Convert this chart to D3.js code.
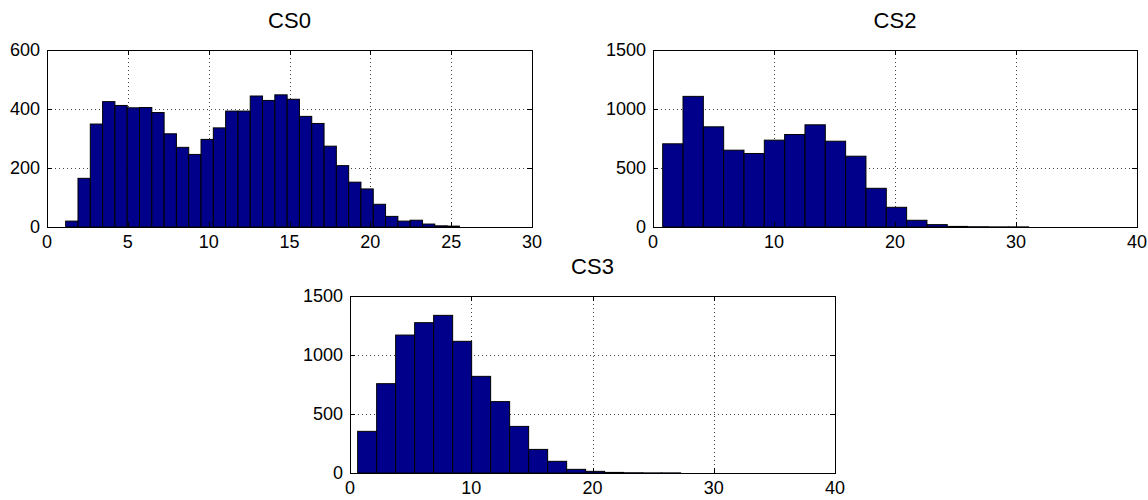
<!DOCTYPE html>
<html>
<head>
<meta charset="utf-8">
<script src="https://cdn.jsdelivr.net/npm/d3@7"></script>
<style>
  html, body { margin: 0; padding: 0; background: #fff; }
  svg { display: block; }
  text { font-family: "Liberation Sans", Arial, Helvetica, sans-serif; fill: #000; }
</style>
</head>
<body>
<svg id="chart" width="1148" height="500"></svg>
<script>
// Histogram counts per bin for each channel
const cs0Counts = [20, 165, 349, 425, 412, 404, 405, 388, 316, 270, 246, 297, 336, 393, 393, 444,
                   429, 448, 433, 375, 351, 274, 208, 152, 129, 77, 36, 20, 23, 10, 4, 3];
const cs2Counts = [705, 1107, 849, 651, 623, 736, 784, 866, 727, 600, 328, 167, 57, 20, 5, 2, 1, 1, 0, 0, 0, 0, 0];
const cs3Counts = [353, 757, 1169, 1274, 1336, 1116, 819, 605, 395, 200, 99, 31, 14, 5, 2, 1, 1, 0, 0, 0, 0, 0, 0, 0, 0];

// First bin edge and bin width (in x units) for each channel
const cs0Bins = [1.156, 0.761];
const cs2Bins = [0.8, 1.68];
const cs3Bins = [0.63, 1.567];

// Axis limits and tick values
const cs0XTicks = [0, 5, 10, 15, 20, 25, 30];
const cs0YTicks = [0, 200, 400, 600];
const cs2XTicks = [0, 10, 20, 30, 40];
const cs2YTicks = [0, 500, 1000, 1500];
const cs3XTicks = [0, 10, 20, 30, 40];
const cs3YTicks = [0, 500, 1000, 1500];

const titles = ["CS0", "CS2", "CS3"];

const svg = d3.select("#chart");
const barFill = "#00008B";
const tickLen = 5;

function panel(opts) {
  const { title, counts, bins, xTicks, yTicks, box, id } = opts;
  const x = d3.scaleLinear().domain([xTicks[0], xTicks[xTicks.length - 1]]).range([box.x0, box.x1]);
  const y = d3.scaleLinear().domain([yTicks[0], yTicks[yTicks.length - 1]]).range([box.y1, box.y0]);

  const g = svg.append("g");

  g.append("defs").append("clipPath").attr("id", "clip-" + id)
    .append("rect")
    .attr("x", box.x0).attr("y", box.y0 - 1)
    .attr("width", box.x1 - box.x0).attr("height", box.y1 - box.y0 + 1);

  // white plot background
  g.append("rect")
    .attr("x", box.x0).attr("y", box.y0)
    .attr("width", box.x1 - box.x0).attr("height", box.y1 - box.y0)
    .attr("fill", "#fff");

  // dotted grid
  const grid = g.append("g")
    .attr("stroke", "#444").attr("stroke-width", 1)
    .attr("stroke-dasharray", "1,3").attr("shape-rendering", "crispEdges");
  grid.selectAll("line.vx").data(xTicks.slice(1, -1)).join("line")
    .attr("x1", d => Math.round(x(d)) + 0.5).attr("x2", d => Math.round(x(d)) + 0.5)
    .attr("y1", box.y0).attr("y2", box.y1);
  grid.selectAll("line.hy").data(yTicks.slice(1, -1)).join("line")
    .attr("x1", box.x0).attr("x2", box.x1)
    .attr("y1", d => Math.round(y(d)) + 0.5).attr("y2", d => Math.round(y(d)) + 0.5);

  // bars
  const [start, width] = bins;
  g.append("g").attr("clip-path", "url(#clip-" + id + ")")
    .selectAll("rect").data(counts).join("rect")
    .attr("x", (d, i) => x(start + i * width))
    .attr("width", (d, i) => x(start + (i + 1) * width) - x(start + i * width))
    .attr("y", d => y(d))
    .attr("height", d => y(0) - y(d))
    .attr("fill", barFill)
    .attr("stroke", "#000").attr("stroke-width", 1);

  // inward tick marks on all four sides
  const ticks = g.append("g").attr("stroke", "#000").attr("stroke-width", 1).attr("shape-rendering", "crispEdges");
  xTicks.forEach(t => {
    const px = Math.round(x(t)) + 0.5;
    ticks.append("line").attr("x1", px).attr("x2", px).attr("y1", box.y1).attr("y2", box.y1 - tickLen);
    ticks.append("line").attr("x1", px).attr("x2", px).attr("y1", box.y0).attr("y2", box.y0 + tickLen);
  });
  yTicks.forEach(t => {
    const py = Math.round(y(t)) + 0.5;
    ticks.append("line").attr("x1", box.x0).attr("x2", box.x0 + tickLen).attr("y1", py).attr("y2", py);
    ticks.append("line").attr("x1", box.x1).attr("x2", box.x1 - tickLen).attr("y1", py).attr("y2", py);
  });

  // axes box
  g.append("rect")
    .attr("x", box.x0 + 0.5).attr("y", box.y0 + 0.5)
    .attr("width", box.x1 - box.x0).attr("height", box.y1 - box.y0)
    .attr("fill", "none").attr("stroke", "#000").attr("stroke-width", 1)
    .attr("shape-rendering", "crispEdges");

  // tick labels
  g.append("g").selectAll("text").data(xTicks).join("text")
    .attr("x", d => x(d)).attr("y", box.y1 + 21)
    .attr("text-anchor", "middle").attr("font-size", 18)
    .text(d => d);
  g.append("g").selectAll("text").data(yTicks).join("text")
    .attr("x", box.x0 - 7).attr("y", d => y(d) + 6)
    .attr("text-anchor", "end").attr("font-size", 18)
    .text(d => d);

  // title
  g.append("text")
    .attr("x", (box.x0 + box.x1) / 2).attr("y", box.y0 - 22)
    .attr("text-anchor", "middle").attr("font-size", 22)
    .text(title);
}

panel({ id: "cs0", title: titles[0], counts: cs0Counts, bins: cs0Bins, xTicks: cs0XTicks, yTicks: cs0YTicks,
        box: { x0: 47, x1: 532, y0: 50, y1: 227 } });
panel({ id: "cs2", title: titles[1], counts: cs2Counts, bins: cs2Bins, xTicks: cs2XTicks, yTicks: cs2YTicks,
        box: { x0: 653, x1: 1137, y0: 50, y1: 227 } });
panel({ id: "cs3", title: titles[2], counts: cs3Counts, bins: cs3Bins, xTicks: cs3XTicks, yTicks: cs3YTicks,
        box: { x0: 350, x1: 835, y0: 296, y1: 473 } });
</script>
</body>
</html>
